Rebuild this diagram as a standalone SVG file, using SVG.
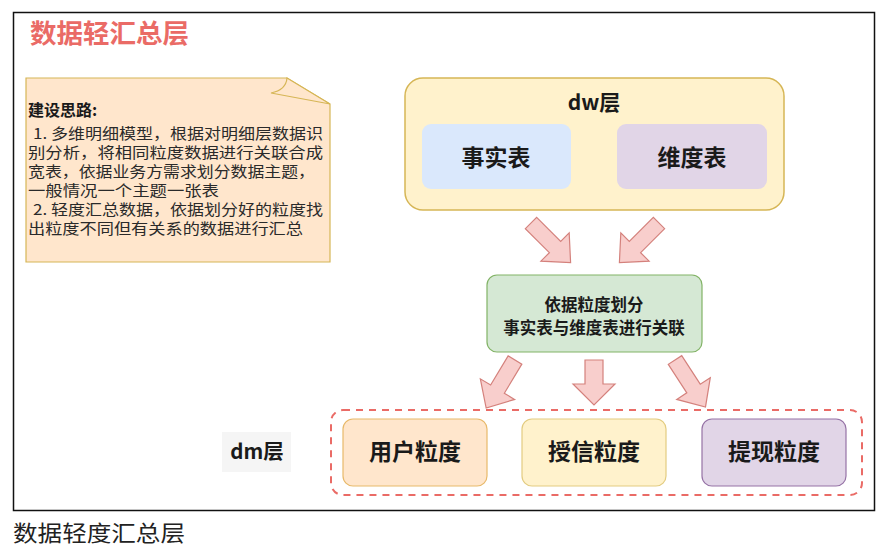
<svg xmlns="http://www.w3.org/2000/svg" width="894" height="549" viewBox="0 0 894 549">
<defs>
<style>
text{font-family:"Noto Sans CJK SC","Liberation Sans",sans-serif;fill:#1a1a1a}
.b{font-weight:bold}
.arr{fill:#f8cecc;stroke:#d4817c;stroke-width:1.2;stroke-linejoin:miter}
.note{font-size:15px;fill:#2a2a2a}
</style>
<path id="arrow" d="M0,-8 L34,-8 L34,-20 L56,0 L34,20 L34,8 L0,8 Z"/>
</defs>
<rect x="0" y="0" width="894" height="549" fill="#ffffff"/>
<rect x="13.5" y="12.5" width="861" height="498" fill="#ffffff" stroke="#111" stroke-width="1.5"/>

<g id="title">
<text x="30" y="43" class="b" font-size="26.5" style="fill:#ea6b66">数据轻汇总层</text>
</g>

<g id="note">
<path d="M26,78 L287,78 L330,104 L330,262 L26,262 Z" fill="#ffe6cc" stroke="#d6b656" stroke-width="1.2"/>
<path d="M287,78 Q286,90 271,93 L330,104 Z" fill="#ffe6cc" stroke="#d6b656" stroke-width="1.2"/>
<text x="28" y="116" class="b" font-size="16">建设思路:</text>
<text class="note" x="33" y="139" textLength="290" lengthAdjust="spacingAndGlyphs">1. 多维明细模型，根据对明细层数据识</text>
<text class="note" x="28" y="158" textLength="295" lengthAdjust="spacingAndGlyphs">别分析，将相同粒度数据进行关联合成</text>
<text class="note" x="28" y="177" textLength="287" lengthAdjust="spacingAndGlyphs">宽表，依据业务方需求划分数据主题，</text>
<text class="note" x="28" y="196" textLength="191" lengthAdjust="spacingAndGlyphs">一般情况一个主题一张表</text>
<text class="note" x="33" y="215" textLength="290" lengthAdjust="spacingAndGlyphs">2. 轻度汇总数据，依据划分好的粒度找</text>
<text class="note" x="28" y="234" textLength="275" lengthAdjust="spacingAndGlyphs">出粒度不同但有关系的数据进行汇总</text>
</g>

<g id="dw">
<rect x="405" y="78" width="379" height="132" rx="18" fill="#fff2cc" stroke="#d6b656" stroke-width="1.5"/>
<text x="594" y="110" text-anchor="middle" class="b" font-size="21">dw层</text>
</g>
<g id="fact">
<rect x="422" y="124" width="149" height="65" rx="9" fill="#dae8fc"/>
<text x="496" y="166" text-anchor="middle" class="b" font-size="23">事实表</text>
</g>
<g id="dim">
<rect x="617" y="124" width="150" height="65" rx="9" fill="#e1d5e7"/>
<text x="692" y="166" text-anchor="middle" class="b" font-size="23">维度表</text>
</g>

<g id="join">
<rect x="487" y="275" width="215" height="77" rx="10" fill="#d5e8d4" stroke="#82b366" stroke-width="1.2"/>
<text x="594" y="311" text-anchor="middle" class="b" font-size="16.5">依据粒度划分</text>
<text x="594" y="334" text-anchor="middle" class="b" font-size="16.5">事实表与维度表进行关联</text>
</g>

<g id="connectors">
<use href="#arrow" class="arr" transform="translate(531,223) rotate(45)"/>
<use href="#arrow" class="arr" transform="translate(659,223) rotate(135)"/>
<use href="#arrow" class="arr" transform="translate(515,360) rotate(121)"/>
<path class="arr" d="M585,360 L603,360 L603,384 L615,384 L594,405 L573,384 L585,384 Z"/>
<use href="#arrow" class="arr" transform="translate(675,360) rotate(57)"/>
</g>

<g id="dm">
<rect x="331" y="410" width="531" height="85" rx="12" fill="none" stroke="#ea6b66" stroke-width="2" stroke-dasharray="7 6"/>
</g>
<g id="dm-label">
<rect x="222" y="432" width="69" height="40" fill="#f5f5f5"/>
<text x="257" y="459" text-anchor="middle" class="b" font-size="20.5">dm层</text>
</g>
<g id="user">
<rect x="343" y="419" width="144" height="67" rx="10" fill="#ffe6cc" stroke="#e8b96a" stroke-width="1.2"/>
<text x="415" y="460" text-anchor="middle" class="b" font-size="23">用户粒度</text>
</g>
<g id="credit">
<rect x="522" y="419" width="144" height="67" rx="10" fill="#fff2cc" stroke="#e3cc80" stroke-width="1.2"/>
<text x="594" y="460" text-anchor="middle" class="b" font-size="23">授信粒度</text>
</g>
<g id="withdraw">
<rect x="702" y="419" width="144" height="67" rx="10" fill="#e1d5e7" stroke="#9673a6" stroke-width="1.2"/>
<text x="774" y="460" text-anchor="middle" class="b" font-size="23">提现粒度</text>
</g>

<g id="caption">
<text x="13" y="541" font-size="22" textLength="172" lengthAdjust="spacingAndGlyphs" style="font-family:'Liberation Serif','Noto Sans CJK SC',serif;fill:#222">数据轻度汇总层</text>
</g>
</svg>
